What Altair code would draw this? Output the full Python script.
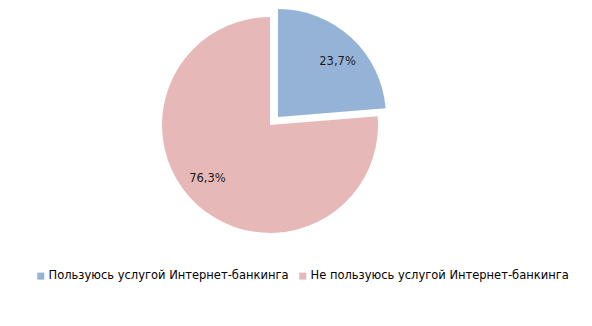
import altair as alt
import pandas as pd
import math

categories = ["Пользуюсь услугой Интернет-банкинга", "Не пользуюсь услугой Интернет-банкинга"]
values = [23.7, 76.3]
labels = ["23,7%", "76,3%"]
colors = ["#95B3D7", "#E6B9B8"]
order = [0, 1]

df = pd.DataFrame({"cat": categories, "value": values, "label": labels, "order": order})

theta_scale = alt.Scale(domain=[0, 100], range=[0, 2 * math.pi])
color_enc = alt.Color(
    "cat:N",
    scale=alt.Scale(domain=categories, range=colors),
    sort=categories,
    legend=alt.Legend(
        title=None,
        orient="none",
        direction="horizontal",
        legendX=35,
        legendY=270,
        symbolType="square",
        symbolSize=49,
        symbolStrokeWidth=0,
        symbolOffset=0,
        labelFont="DejaVu Sans",
        labelFontSize=11.5,
        labelColor="#000000",
        labelLimit=400,
        labelOffset=2,
        columnPadding=8,
        padding=0,
    ),
)

base = alt.Chart(df).transform_window(
    end="sum(value)", sort=[alt.SortField("order")], frame=[None, 0]
).transform_calculate(
    start="datum.end - datum.value",
    mid="(datum.end + datum.end - datum.value) / 2",
)

def slice_layer(idx, cx, cy, dx, dy):
    b = base.transform_filter(alt.datum.order == idx)
    arc = b.mark_arc(radius=108, stroke=None).encode(
        theta=alt.Theta("start:Q", scale=theta_scale),
        theta2="end:Q",
        color=color_enc,
        x=alt.value(cx),
        y=alt.value(cy),
    )
    txt = b.mark_text(radius=82, font="DejaVu Sans", fontSize=11.5, color="#1a1a1a",
                      dx=dx, dy=dy).encode(
        theta=alt.Theta("mid:Q", scale=theta_scale),
        text="label:N",
        x=alt.value(cx),
        y=alt.value(cy),
    )
    return arc, txt

pink_arc, pink_txt = slice_layer(1, 270, 125, -7, -6)
blue_arc, blue_txt = slice_layer(0, 278, 117, 4, 5)

chart = alt.layer(pink_arc, blue_arc, pink_txt, blue_txt).properties(
    width=592, height=326, autosize=alt.AutoSizeParams(type="none"), padding=0,
    background="white",
).configure_view(stroke=None)

chart.save("out.html", embed_options={"renderer": "svg", "actions": False})
